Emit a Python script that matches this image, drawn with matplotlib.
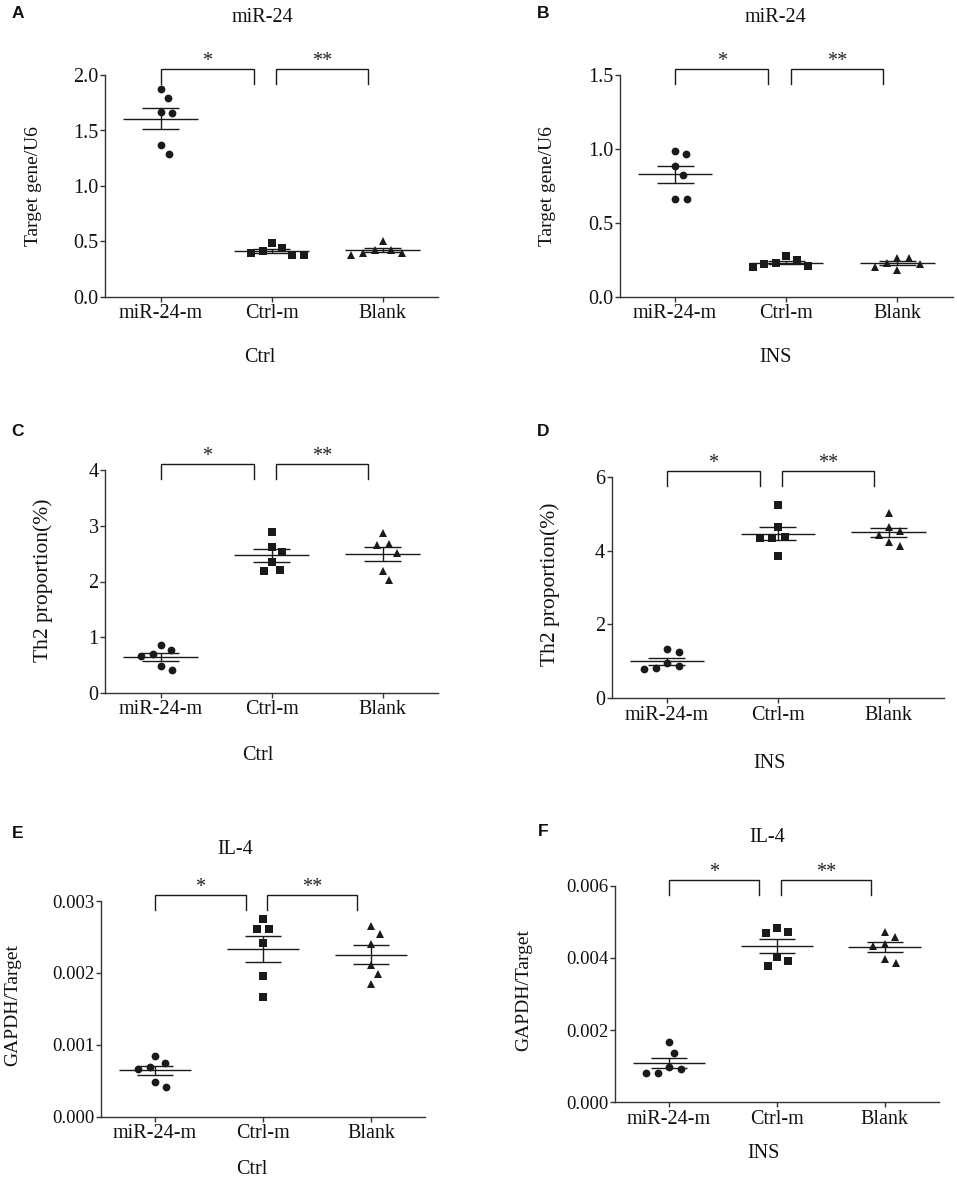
import numpy as np
import matplotlib
matplotlib.use("Agg")
import matplotlib.pyplot as plt
from matplotlib.transforms import blended_transform_factory

# ---------------- data ----------------
groups = ["miR-24-m", "Ctrl-m", "Blank"]

# Panel A: miR-24, Ctrl
a_mir = [1.871, 1.789, 1.666, 1.660, 1.368, 1.290]
a_ctrl = [0.445, 0.400, 0.490, 0.376, 0.376, 0.415]
a_blank = [0.427, 0.397, 0.505, 0.376, 0.397, 0.421]

# Panel B: miR-24, INS
b_mir = [0.884, 0.963, 0.823, 0.659, 0.988, 0.659]
b_ctrl = [0.248, 0.226, 0.277, 0.203, 0.208, 0.230]
b_blank = [0.264, 0.226, 0.264, 0.180, 0.203, 0.230]

# Panel C: Th2 proportion, Ctrl
c_mir = [0.693, 0.854, 0.669, 0.418, 0.764, 0.490]
c_ctrl = [2.627, 2.358, 2.889, 2.531, 2.185, 2.215]
c_blank = [2.663, 2.866, 2.519, 2.018, 2.681, 2.197]

# Panel D: Th2 proportion, INS
d_mir = [1.344, 0.875, 1.263, 0.794, 0.812, 0.947]
d_ctrl = [4.349, 5.224, 4.629, 4.331, 3.862, 4.376]
d_blank = [4.529, 5.026, 4.421, 4.123, 4.629, 4.223]

# Panel E: IL-4, Ctrl
e_mir = [0.000696, 0.000849, 0.000668, 0.000417, 0.000751, 0.000478]
e_ctrl = [0.002606, 0.002754, 0.002606, 0.002411, 0.001952, 0.001669]
e_blank = [0.002652, 0.002114, 0.002541, 0.002397, 0.001980, 0.001841]

# Panel F: IL-4, INS
f_mir = [0.000914, 0.001662, 0.001357, 0.000822, 0.000822, 0.000969]
f_ctrl = [0.004726, 0.004015, 0.004680, 0.003785, 0.004818, 0.003923]
f_blank = [0.004385, 0.004726, 0.004338, 0.003849, 0.004569, 0.003960]

a_ticks = [0.0, 0.5, 1.0, 1.5, 2.0]
b_ticks = [0.0, 0.5, 1.0, 1.5]
c_ticks = [0, 1, 2, 3, 4]
d_ticks = [0, 2, 4, 6]
e_ticks = [0.000, 0.001, 0.002, 0.003]
f_ticks = [0.000, 0.002, 0.004, 0.006]

sig_left = "*"
sig_right = "**"

# ---------------- layout ----------------
W, H, DPI = 957, 1184, 100
SERIF = ["Liberation Serif", "DejaVu Serif"]
SANS = ["Liberation Sans", "DejaVu Sans"]
INK = "#1a1a1a"
markers = ["o", "s", "^"]

panels = [
    dict(letter="A", data=[a_mir, a_ctrl, a_blank], ticks=a_ticks, fmt="{:.1f}",
         rect=(105, 75, 438, 297), title="miR-24", title_xy=(262, 18),
         letter_xy=(18, 14), ylabel="Target gene/U6", ylabel_xy=(33, 186), ylsize=14,
         xlabel="Ctrl", xlabel_xy=(260, 357), ytsize=14.5),
    dict(letter="B", data=[b_mir, b_ctrl, b_blank], ticks=b_ticks, fmt="{:.1f}",
         rect=(619.5, 75, 953, 297), title="miR-24", title_xy=(775, 18),
         letter_xy=(543, 14), ylabel="Target gene/U6", ylabel_xy=(547, 186), ylsize=14,
         xlabel="INS", xlabel_xy=(775, 357), ytsize=14.5),
    dict(letter="C", data=[c_mir, c_ctrl, c_blank], ticks=c_ticks, fmt="{:d}",
         rect=(105, 470, 438, 693), title=None, title_xy=None,
         letter_xy=(18, 432), ylabel="Th2 proportion(%)", ylabel_xy=(43, 580), ylsize=15.5,
         xlabel="Ctrl", xlabel_xy=(258, 756), ytsize=14.5),
    dict(letter="D", data=[d_mir, d_ctrl, d_blank], ticks=d_ticks, fmt="{:d}",
         rect=(611.5, 476.7, 944, 698.3), title=None, title_xy=None,
         letter_xy=(543, 432), ylabel="Th2 proportion(%)", ylabel_xy=(550, 584), ylsize=15.5,
         xlabel="INS", xlabel_xy=(770, 763), ytsize=14.5),
    dict(letter="E", data=[e_mir, e_ctrl, e_blank], ticks=e_ticks, fmt="{:.3f}",
         rect=(101, 901, 425, 1116.7), title="IL-4", title_xy=(235, 850),
         letter_xy=(18, 833), ylabel="GAPDH/Target", ylabel_xy=(12.5, 1005), ylsize=14,
         xlabel="Ctrl", xlabel_xy=(252, 1170), ytsize=13.5),
    dict(letter="F", data=[f_mir, f_ctrl, f_blank], ticks=f_ticks, fmt="{:.3f}",
         rect=(615, 885.7, 938.5, 1102.3), title="IL-4", title_xy=(767, 837),
         letter_xy=(543, 832), ylabel="GAPDH/Target", ylabel_xy=(524, 990), ylsize=14,
         xlabel="INS", xlabel_xy=(764, 1154), ytsize=13.5),
]


def swarm_offsets(vals, ypx_per_unit, d):
    """Beeswarm-style horizontal offsets (in pixels) so markers do not overlap."""
    ys = np.asarray(vals, dtype=float) * ypx_per_unit
    order = np.argsort(-ys, kind="stable")
    placed = []
    xs = np.zeros(len(ys))
    for i in order:
        y = ys[i]
        neigh = [(px, py) for px, py in placed if abs(py - y) < d]
        cands = [0.0]
        for px, py in neigh:
            dx = np.sqrt(max(d * d - (py - y) ** 2, 0.0))
            cands += [px + dx, px - dx]
        cands = sorted(cands, key=lambda c: (round(abs(c), 6), -c))
        chosen = cands[-1]
        for c in cands:
            if all((c - px) ** 2 + (y - py) ** 2 >= d * d - 1e-6 for px, py in neigh):
                chosen = c
                break
        xs[i] = chosen
        placed.append((chosen, y))
    return xs


fig = plt.figure(figsize=(W / DPI, H / DPI), dpi=DPI)
fig.patch.set_facecolor("white")


def fx(x):
    return x / W


def fy(y):
    return 1 - y / H


for p in panels:
    l, t, r, b = p["rect"]
    ax = fig.add_axes([fx(l), fy(b), (r - l) / W, (b - t) / H])
    ax_w, ax_h = r - l, b - t
    ymax = p["ticks"][-1]
    ax.set_xlim(-0.5, 2.5)
    ax.set_ylim(0, ymax)
    ypx = ax_h / ymax
    xpx = ax_w / 3.0

    for gi, vals in enumerate(p["data"]):
        offs = swarm_offsets(vals, ypx, 12.0) / xpx
        ax.plot(gi + offs, vals, linestyle="none", marker=markers[gi],
                markersize=5.6 if markers[gi] != "^" else 6.2,
                color=INK, markeredgewidth=0, zorder=3, clip_on=False)
        arr = np.asarray(vals)
        m = arr.mean()
        sem = arr.std(ddof=1) / np.sqrt(len(arr))
        ax.hlines(m, gi - 0.335, gi + 0.335, color=INK, lw=1.0, zorder=4)
        ax.hlines([m - sem, m + sem], gi - 0.167, gi + 0.167, color=INK, lw=1.0, zorder=4)
        ax.vlines(gi, m - sem, m + sem, color=INK, lw=1.0, zorder=4)

    for s in ["top", "right"]:
        ax.spines[s].set_visible(False)
    for s in ["left", "bottom"]:
        ax.spines[s].set_linewidth(1.0)
        ax.spines[s].set_color("#333333")

    ax.set_xticks(range(len(groups)))
    ax.set_xticklabels(groups, fontfamily=SERIF, fontsize=14.5)
    ax.set_yticks(p["ticks"])
    ax.set_yticklabels([p["fmt"].format(v) for v in p["ticks"]],
                       fontfamily=SERIF, fontsize=p["ytsize"])
    ax.tick_params(axis="both", direction="out", length=3.8, width=1.0,
                   color="#333333", labelcolor="#111111")
    ax.tick_params(axis="y", pad=0.8)
    ax.tick_params(axis="x", pad=1.5)

    # significance brackets
    trans = blended_transform_factory(ax.transData, ax.transAxes)
    top = 1 + 5.7 / ax_h
    leg = top - 15.0 / ax_h
    star_y = top + 3.0 / ax_h
    for (x0, x1, lab) in [(0.0, 0.84, sig_left), (1.04, 1.87, sig_right)]:
        ax.plot([x0, x0, x1, x1], [leg, top, top, leg], color=INK, lw=1.0,
                transform=trans, clip_on=False, solid_joinstyle="miter")
        ax.text((x0 + x1) / 2, star_y, lab, transform=trans, ha="center",
                va="baseline", fontfamily=SERIF, fontsize=14.5, color="#222222")

    # texts
    fig.text(fx(p["letter_xy"][0]), fy(p["letter_xy"][1]), p["letter"],
             ha="center", va="center", fontfamily=SANS, fontweight="bold",
             fontsize=12.5, color="#111111")
    if p["title"]:
        fig.text(fx(p["title_xy"][0]), fy(p["title_xy"][1]), p["title"],
                 ha="center", va="center", fontfamily=SERIF, fontsize=14.5,
                 color="#111111")
    fig.text(fx(p["ylabel_xy"][0]), fy(p["ylabel_xy"][1]), p["ylabel"],
             ha="center", va="center", rotation=90, fontfamily=SERIF,
             fontsize=p["ylsize"], color="#111111")
    fig.text(fx(p["xlabel_xy"][0]), fy(p["xlabel_xy"][1]), p["xlabel"],
             ha="center", va="center", fontfamily=SERIF, fontsize=14.5,
             color="#111111")

fig.savefig("out.png", dpi=DPI, facecolor="white")
